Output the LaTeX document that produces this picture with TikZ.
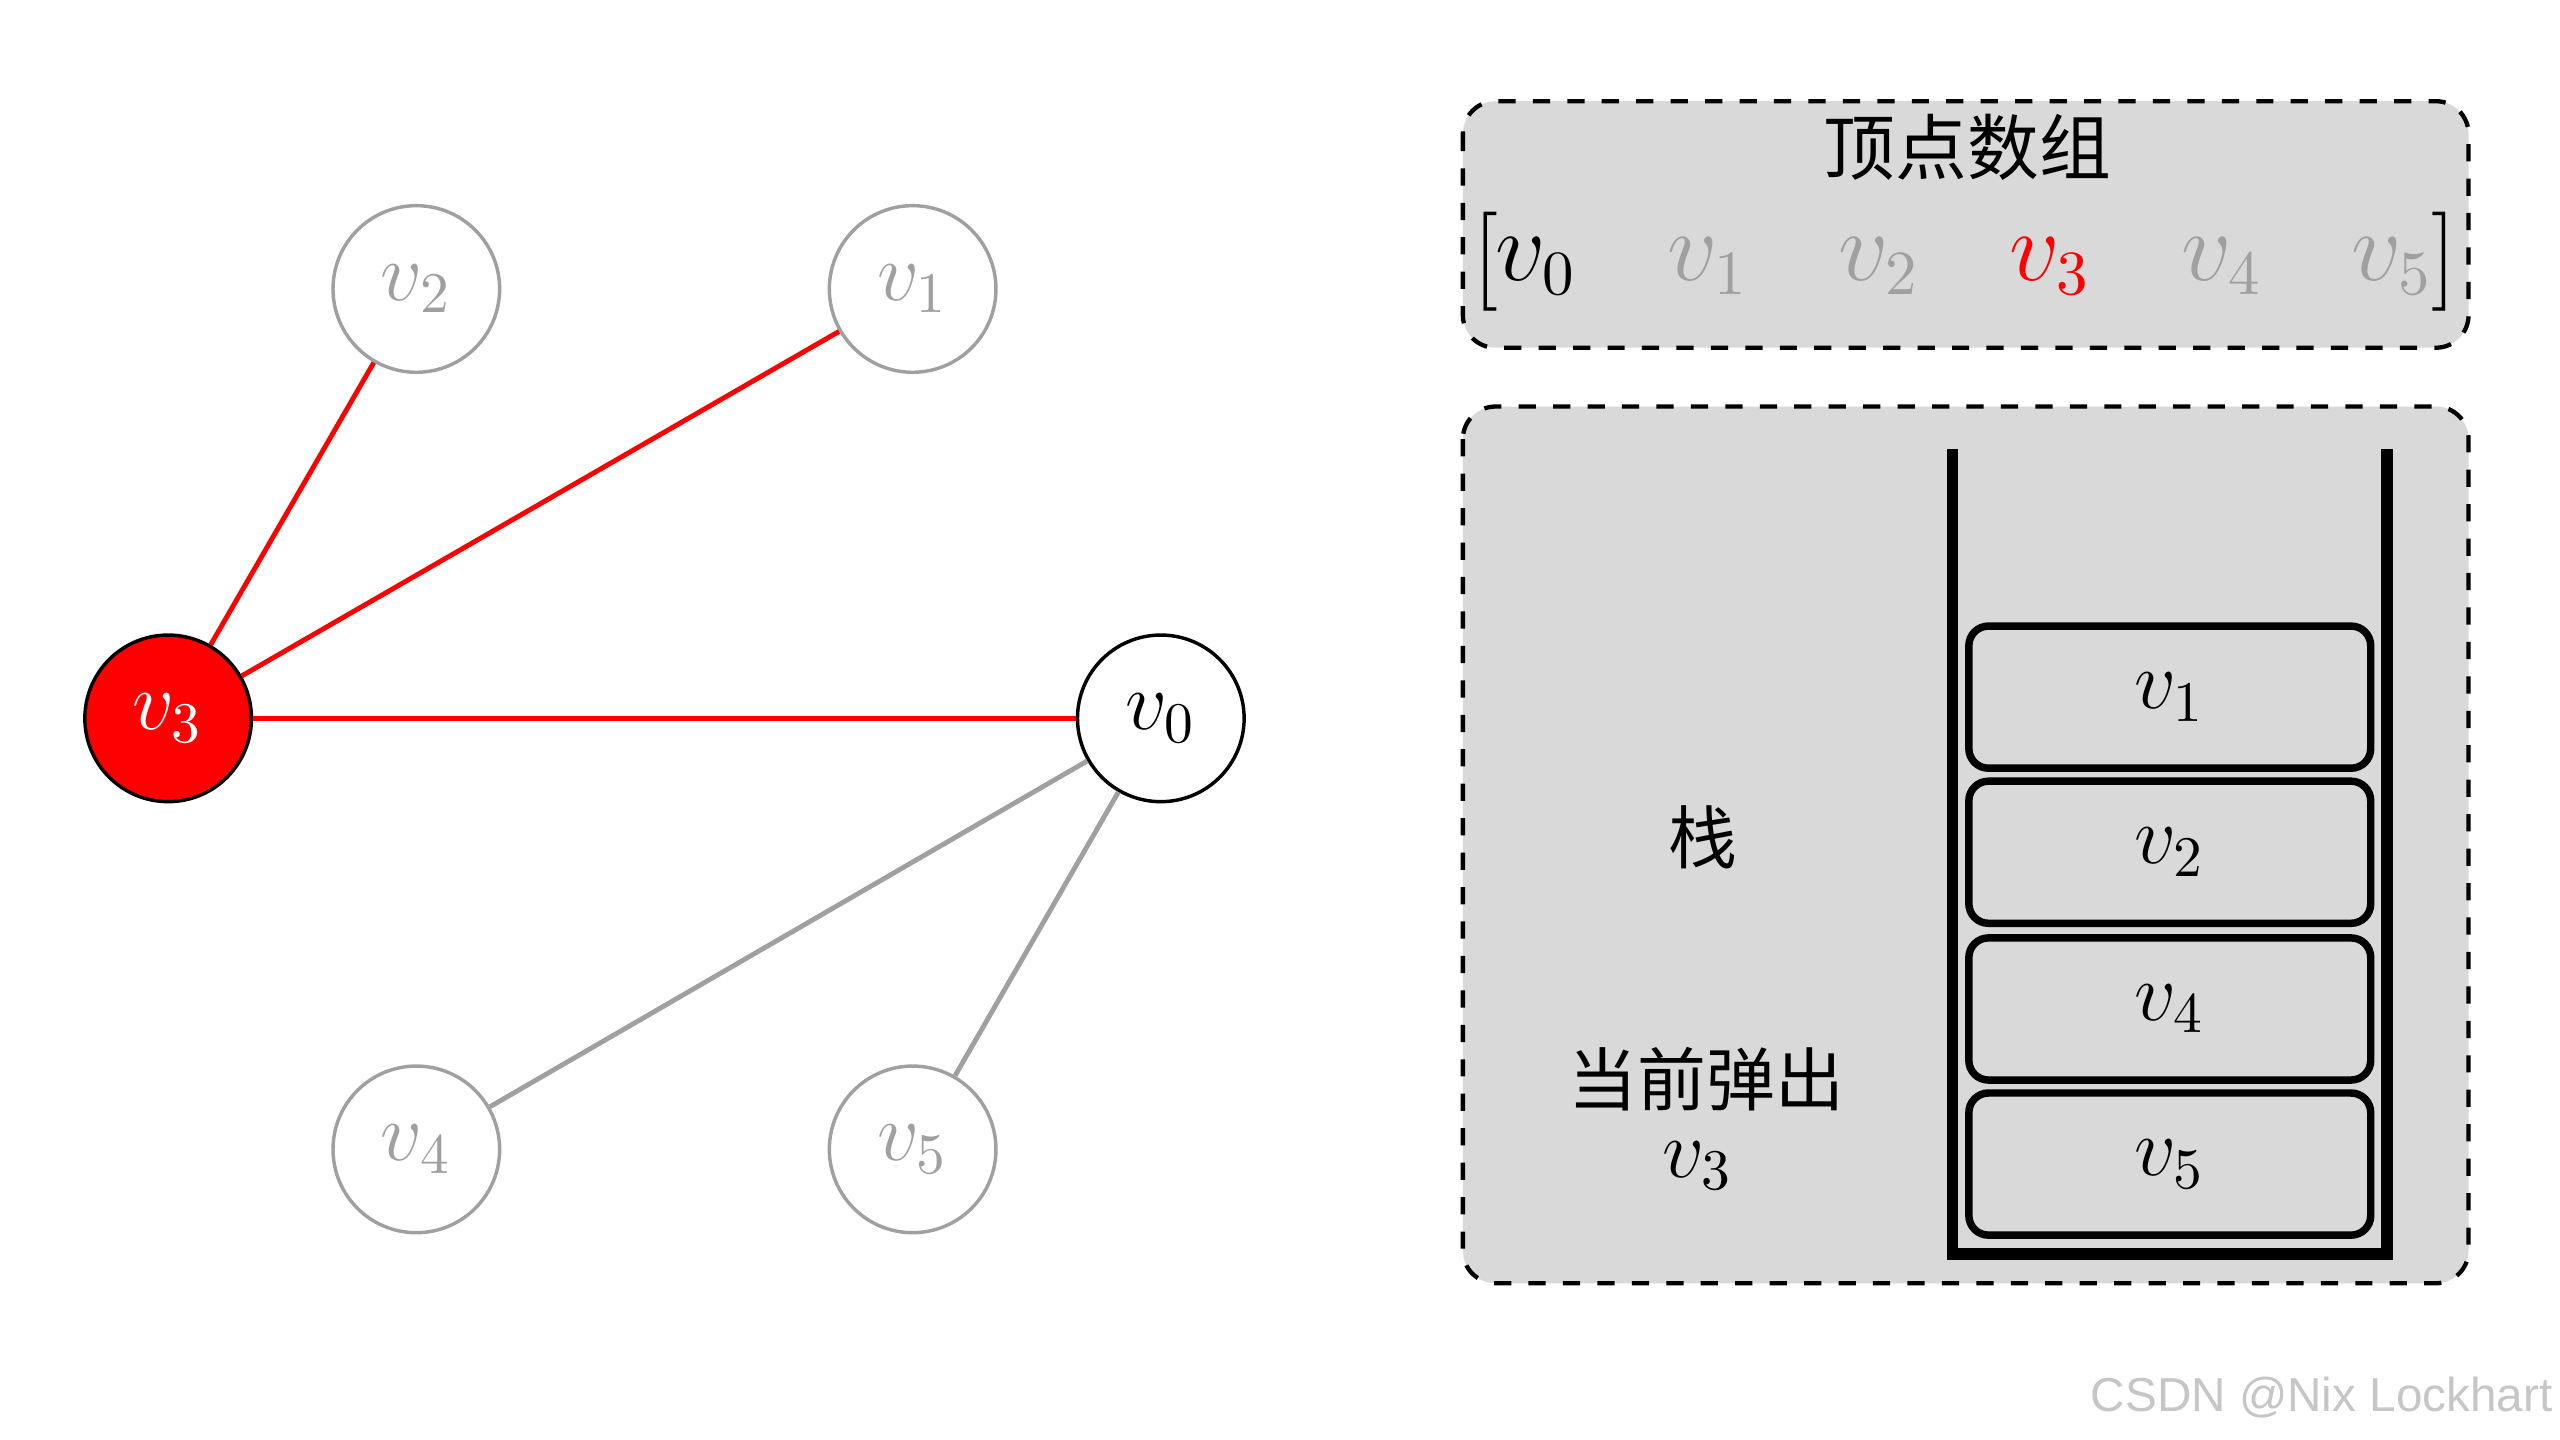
\documentclass[tikz,border=0pt]{standalone}
\usepackage{fontspec}
\newfontfamily\cjk{Noto Sans CJK SC}
\newfontfamily\wm{Liberation Sans}
\definecolor{bx}{HTML}{D9D9D9}
\definecolor{gr}{HTML}{A0A0A0}
\begin{document}
\begin{tikzpicture}[x=0.01cm,y=-0.01cm,
  vert/.style={circle,draw=gr,line width=0.6pt,minimum size=1.02cm,inner sep=0pt,text=gr,font=\fontsize{14.5}{17}\selectfont},
  edge/.style={line width=0.85pt},
  panel/.style={draw,dashed,line width=0.75pt,rounded corners=0.2cm,fill=bx},
  cell/.style={draw,line width=1.3pt,rounded corners=0.12cm,fill=bx,minimum width=2.46cm,minimum height=0.87cm,inner sep=0pt,font=\fontsize{14.5}{17}\selectfont},
  lab/.style={font=\fontsize{14.5}{17}\selectfont,inner sep=0pt},
  arr/.style={font=\fontsize{16}{18}\selectfont,inner sep=0pt}]
\useasboundingbox (0,0) rectangle (1568,882);
% graph
\node[vert] (v2) at (255,177) {$v_2$};
\node[vert] (v1) at (559,177) {$v_1$};
\node[vert,draw=black,fill=red,text=white] (v3) at (103,440) {$v_3$};
\node[vert,draw=black,text=black] (v0) at (711,440) {$v_0$};
\node[vert] (v4) at (255,704) {$v_4$};
\node[vert] (v5) at (559,704) {$v_5$};
\draw[edge,red] (v3) -- (v2);
\draw[edge,red] (v3) -- (v1);
\draw[edge,red] (v3) -- (v0);
\draw[edge,gr] (v0) -- (v4);
\draw[edge,gr] (v0) -- (v5);
% array panel
\path[panel] (896,62) rectangle (1512,213);
\node[lab,font=\cjk\fontsize{12.5}{14}\selectfont] (title) at (1205,90) {顶点数组};
\node[arr] (a0) at (941,163) {$v_0$};
\node[arr,text=gr] (a1) at (1046,163) {$v_1$};
\node[arr,text=gr] (a2) at (1151,163) {$v_2$};
\node[arr,text=red] (a3) at (1256,163) {$v_3$};
\node[arr,text=gr] (a4) at (1361,163) {$v_4$};
\node[arr,text=gr] (a5) at (1465,163) {$v_5$};
\node[arr,font=\fontsize{18}{20}\selectfont] (lb) at (910,160) {$\Big[$};
\node[arr,font=\fontsize{18}{20}\selectfont] (rb) at (1497,160) {$\Big]$};
% stack panel
\path[panel] (896,249) rectangle (1512,786);
\draw[line width=2pt] (1196,275) -- (1196,768) -- (1462,768) -- (1462,275);
\node[cell] (s1) at (1329,427) {$v_1$};
\node[cell] (s2) at (1329,522) {$v_2$};
\node[cell] (s4) at (1329,618) {$v_4$};
\node[cell] (s5) at (1329,713) {$v_5$};
\node[lab,font=\cjk\fontsize{12}{14}\selectfont] (zhan) at (1043,513) {栈};
\node[lab,font=\cjk\fontsize{12}{14}\selectfont] (pop) at (1045,661) {当前弹出};
\node[lab] (popv) at (1040,714) {$v_3$};
\node[font=\wm\fontsize{8.3}{10}\selectfont,text=gr!60,inner sep=0pt] (wm) at (1422,856) {CSDN @Nix Lockhart};
\end{tikzpicture}
\end{document}
